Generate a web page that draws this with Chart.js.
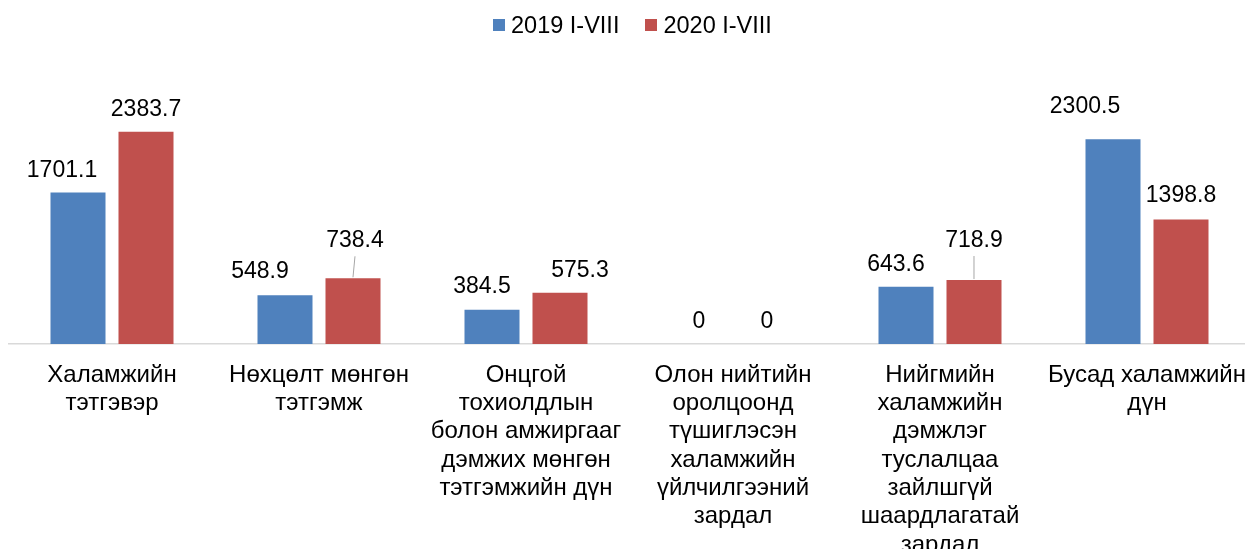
<!DOCTYPE html>
<html lang="mn">
<head>
  <meta charset="UTF-8" />
  <title>Халамжийн зардал</title>
  <script src="https://cdn.jsdelivr.net/npm/chart.js"></script>
  <style>
    * { margin: 0; padding: 0; box-sizing: border-box; }
    body {
      width: 1245px;
      height: 549px;
      overflow: hidden;
      background: #fff;
      position: relative;
      font-family: 'Liberation Sans', Arial, sans-serif;
    }
    .wrap {
      position: absolute;
      left: 0;
      top: 0;
      width: 1259px;
      height: 580px;
    }
    .legend {
      position: absolute;
      left: 493px;
      top: 14px;
      display: flex;
      align-items: center;
      font-size: 23.5px;
      line-height: 22px;
      color: #000;
    }
    .legend-item { display: flex; align-items: center; margin-right: 26px; }
    .legend-box { width: 12px; height: 12px; margin-right: 6px; }
  </style>
</head>
<body>

<div class="wrap"><canvas id="chart"></canvas></div>
<div class="legend" id="legend"></div>

<script>
  // categories, wrapped like the original axis labels
  const categories = [
    ["Халамжийн", "тэтгэвэр"],
    ["Нөхцөлт мөнгөн", "тэтгэмж"],
    ["Онцгой", "тохиолдлын", "болон амжиргааг", "дэмжих мөнгөн", "тэтгэмжийн дүн"],
    ["Олон нийтийн", "оролцоонд", "түшиглэсэн", "халамжийн", "үйлчилгээний", "зардал"],
    ["Нийгмийн", "халамжийн", "дэмжлэг", "туслалцаа", "зайлшгүй", "шаардлагатай", "зардал"],
    ["Бусад халамжийн", "дүн"]
  ];
  const seriesNames = ["2019 I-VIII", "2020 I-VIII"];
  const values2019 = [1701.1, 548.9, 384.5, 0, 643.6, 2300.5];
  const values2020 = [2383.7, 738.4, 575.3, 0, 718.9, 1398.8];

  const colors = ["#4f81bd", "#c0504d"];

  // hand nudges of the value labels, as placed in the original
  const labelShift = [
    { dx: [-16, -25, -10, 0, -10, -28], dy: [0, 1, 1, 0, 0, 10], leader: [0, 0, 0, 0, 0, 0] },
    { dx: [0, 2, 20, 0, 0, 0], dy: [0, 15, 0, 0, 17, 2], leader: [0, 1, 0, 0, 1, 0] }
  ];

  const FONT = "'Liberation Sans', Arial, sans-serif";

  // value labels above bars (+ small leader lines where the label was pulled up)
  const valueLabels = {
    id: "valueLabels",
    afterDatasetsDraw(chart) {
      const ctx = chart.ctx;
      ctx.save();
      ctx.font = "23px " + FONT;
      ctx.textAlign = "center";
      ctx.textBaseline = "alphabetic";
      chart.data.datasets.forEach((ds, di) => {
        const meta = chart.getDatasetMeta(di);
        const sh = labelShift[di];
        meta.data.forEach((bar, i) => {
          const tx = bar.x + sh.dx[i];
          const ty = bar.y - 16 - sh.dy[i];
          ctx.fillStyle = "#000";
          ctx.fillText(String(ds.data[i]), tx, ty);
          if (sh.leader[i]) {
            ctx.strokeStyle = "#a6a6a6";
            ctx.lineWidth = 1;
            ctx.beginPath();
            ctx.moveTo(tx, ty + 9);
            ctx.lineTo(bar.x, bar.y - 1);
            ctx.stroke();
          }
        });
      });
      ctx.restore();
    }
  };

  const chart = new Chart(document.getElementById("chart"), {
    type: "bar",
    data: {
      labels: categories,
      datasets: [
        { label: seriesNames[0], data: values2019, backgroundColor: colors[0] },
        { label: seriesNames[1], data: values2020, backgroundColor: colors[1] }
      ]
    },
    options: {
      responsive: true,
      maintainAspectRatio: false,
      animation: false,
      layout: { padding: { left: 8.5, right: 8.5, top: 77, bottom: 0 } },
      datasets: { bar: { categoryPercentage: 0.657, barPercentage: 0.809 } },
      plugins: {
        legend: { display: false },
        tooltip: { enabled: false }
      },
      scales: {
        x: {
          grid: { display: false, drawTicks: false },
          border: { display: true, color: "#d9d9d9", width: 1.5 },
          ticks: {
            color: "#000",
            font: { family: FONT, size: 24, lineHeight: 1.18 },
            padding: 17,
            maxRotation: 0,
            autoSkip: false
          },
          afterFit(scale) {
            scale.height = 236;
            // labels may hang past the plot edge, like in the original
            scale.paddingLeft = 0;
            scale.paddingRight = 0;
          }
        },
        y: { display: false, min: 0, max: 3000 }
      }
    },
    plugins: [valueLabels]
  });

  // legend in the same look as the original
  const legendEl = document.getElementById("legend");
  seriesNames.forEach((name, i) => {
    const item = document.createElement("div");
    item.className = "legend-item";
    item.innerHTML = `<span class="legend-box" style="background:${colors[i]}"></span><span>${name}</span>`;
    legendEl.appendChild(item);
  });
</script>
</body>
</html>
